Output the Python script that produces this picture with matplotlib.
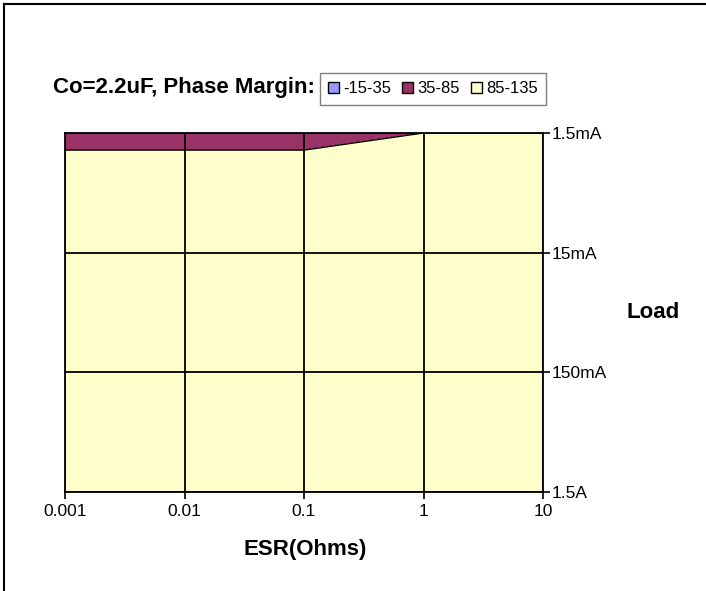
import numpy as np
import matplotlib.pyplot as plt
from matplotlib.patches import Patch
from matplotlib.lines import Line2D

##############################################################################
# DATA
esr_values = [0.001, 0.01, 0.1, 1, 10]          # Ohms
esr_labels = ['0.001', '0.01', '0.1', '1', '10']
load_values = [0.0015, 0.015, 0.15, 1.5]        # A
load_labels = ['1.5mA', '15mA', '150mA', '1.5A']
# phase margin (deg), rows = load, cols = ESR
phase_margin = [[80, 80, 80, 85, 95],
                [115, 115, 115, 115, 115],
                [120, 120, 120, 120, 120],
                [125, 125, 125, 125, 125]]
band_levels = [-15, 35, 85, 135]
band_labels = ['-15-35', '35-85', '85-135']
band_colors = ['#9999FF', '#993366', '#FFFFCC']

##############################################################################
# PLOT
plt.rcParams['font.family'] = ['Liberation Sans', 'DejaVu Sans']
fig = plt.figure(figsize=(7.06, 5.91), dpi=100)
W, H = 706, 591
ax = fig.add_axes([65/W, 1-492/H, (543-65)/W, (492-133)/H])

x = np.log10(esr_values)
y = np.log10(load_values)
z = np.array(phase_margin, dtype=float)

ax.contourf(x, y, z, levels=band_levels, colors=band_colors)
ax.contour(x, y, z, levels=[85], colors='black', linewidths=1.0)

ax.set_xlim(x[0], x[-1])
ax.set_ylim(y[-1], y[0])

ax.set_xticks(x)
ax.set_xticklabels(esr_labels)
ax.set_yticks(y)
ax.set_yticklabels(load_labels)
ax.yaxis.tick_right()
ax.tick_params(axis='both', direction='out', length=5, width=1.2,
               labelsize=12.5, color='black')
ax.tick_params(axis='x', pad=4)
ax.tick_params(axis='y', pad=1.5)
ax.grid(True, color='black', linewidth=1.3)
for sp in ax.spines.values():
    sp.set_linewidth(1.3)

# title, axis titles
fig.text(53/W, 1-87/H, 'Co=2.2uF, Phase Margin:', fontsize=16,
         fontweight='bold', va='center', ha='left')
fig.text(305/W, 1-550/H, 'ESR(Ohms)', fontsize=16, fontweight='bold',
         va='center', ha='center')
fig.text(653/W, 1-313/H, 'Load', fontsize=16, fontweight='bold',
         va='center', ha='center')

# legend
handles = [Patch(facecolor=c, edgecolor='black', linewidth=1.0) for c in band_colors]
leg = fig.legend(handles, band_labels, loc='upper left', ncol=3,
                 bbox_to_anchor=(320/W, 1-73/H), borderaxespad=0,
                 fontsize=12, frameon=True, fancybox=False, framealpha=1,
                 edgecolor='#808080', handlelength=0.66, handleheight=0.66,
                 handletextpad=0.25, columnspacing=0.65, borderpad=0.5)
leg.get_frame().set_linewidth(1.0)

# outer chart frame (top and left edges)
fig.add_artist(Line2D([4/W, 1], [1-4/H, 1-4/H], color='black', linewidth=1.5))
fig.add_artist(Line2D([4/W, 4/W], [0, 1-4/H], color='black', linewidth=1.5))

plt.savefig('out.png', dpi=100)
plt.close()
